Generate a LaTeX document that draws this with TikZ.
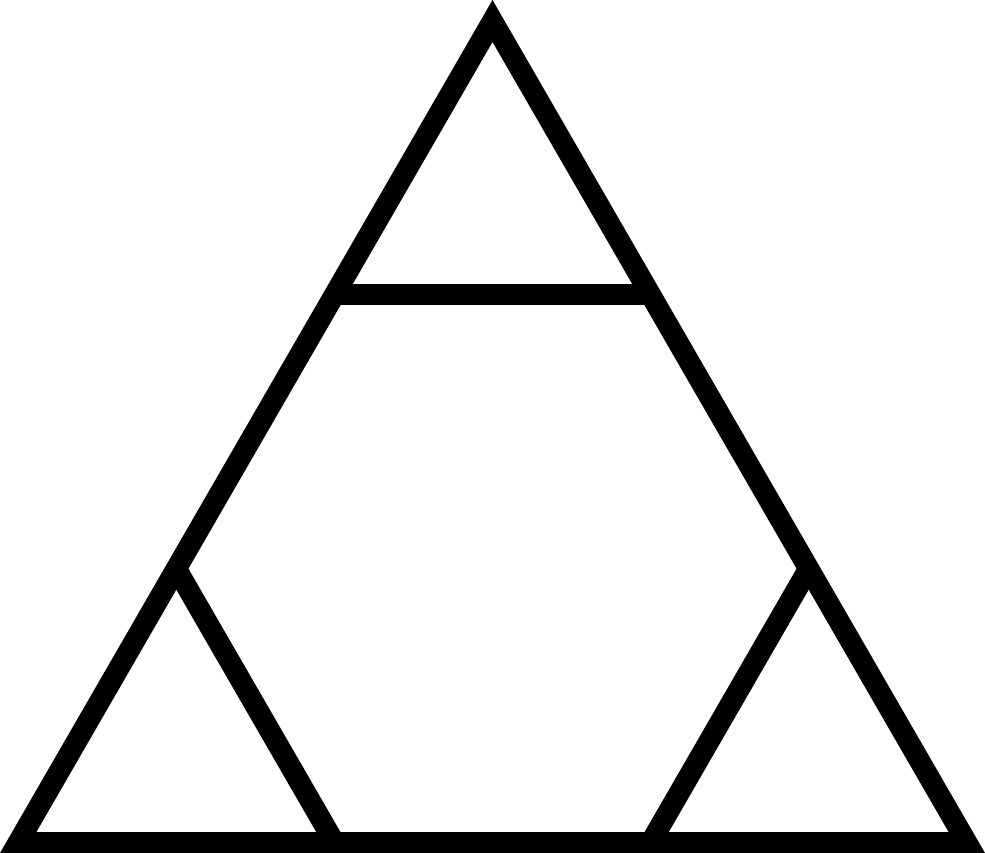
\documentclass[tikz,border=0pt]{standalone}
\usetikzlibrary{calc}
\begin{document}
\begin{tikzpicture}[x=1pt,y=-1pt,
  edge/.style={line width=21pt,line join=miter,black}]
\useasboundingbox (0,0) rectangle (985,853);
\coordinate (A) at (492.5,21);
\coordinate (L) at (18.2,842.5);
\coordinate (R) at (966.8,842.5);
\coordinate (tl) at ($(L)!2/3!(A)$);
\coordinate (tr) at ($(R)!2/3!(A)$);
\coordinate (ll) at ($(L)!1/3!(A)$);
\coordinate (lb) at ($(L)!1/3!(R)$);
\coordinate (rr) at ($(R)!1/3!(A)$);
\coordinate (rb) at ($(R)!1/3!(L)$);
\draw[edge] (tl) -- (tr);
\draw[edge] (ll) -- (lb);
\draw[edge] (rr) -- (rb);
\draw[edge] (A) -- (L) -- (R) -- cycle;
\end{tikzpicture}
\end{document}
